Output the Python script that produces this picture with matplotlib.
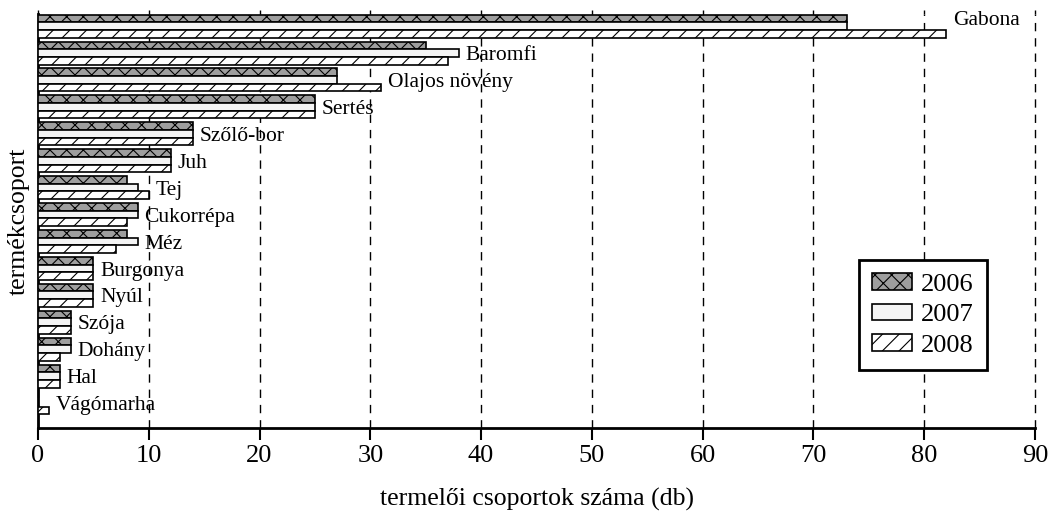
import numpy as np
import matplotlib
matplotlib.use("Agg")
import matplotlib.pyplot as plt

plt.rcParams['font.family'] = ['Liberation Serif', 'DejaVu Serif']
plt.rcParams['hatch.linewidth'] = 0.8

categories = ["Gabona", "Baromfi", "Olajos növény", "Sertés", "Szőlő-bor", "Juh", "Tej",
              "Cukorrépa", "Méz", "Burgonya", "Nyúl", "Szója", "Dohány", "Hal", "Vágómarha"]
v2006 = [73, 35, 27, 25, 14, 12, 8, 9, 8, 5, 5, 3, 3, 2, 0]
v2007 = [73, 38, 27, 25, 14, 12, 9, 9, 9, 5, 5, 3, 3, 2, 0]
v2008 = [82, 37, 31, 25, 14, 12, 10, 8, 7, 5, 5, 3, 2, 2, 1]
years = ["2006", "2007", "2008"]

fig = plt.figure(figsize=(10.49, 5.11), dpi=100)
ax = fig.add_axes([0.0362, 0.1624, 0.9505, 0.8102])

y = np.arange(len(categories))
h = 0.285
styles = [dict(color="#9e9e9e", hatch="xx"), dict(color="#f4f4f4", hatch=""), dict(color="white", hatch="//")]
for k, (vals, st) in enumerate(zip([v2006, v2007, v2008], styles)):
    ax.barh(y - h + k * h, vals, height=h, color=st["color"], hatch=st["hatch"],
            edgecolor="black", linewidth=1.2, label=years[k], zorder=3)

for i, name in enumerate(categories):
    m = max(v2006[i], v2007[i], v2008[i])
    dy = -0.22 if i == 0 else 0.1
    ax.text(m + 0.6, y[i] + dy, name, fontsize=15.5, va="center", ha="left", zorder=4)

ax.set_xlim(0, 90)
ax.set_ylim(14.93, -0.45)
ax.set_xticks(range(0, 91, 10))
ax.set_yticks([])
ax.xaxis.grid(True, linestyle=(0, (6, 5)), color="black", linewidth=1.0, zorder=0)
for gl in ax.get_xgridlines():
    gl.set_clip_on(False)
ax.tick_params(axis="x", labelsize=19, width=1.5, length=8.5, pad=3.5, direction="out", top=True)
for t in ax.xaxis.get_major_ticks():
    t.tick2line.set_markersize(3)
    t.tick2line.set_markeredgewidth(1.0)
ax.spines["top"].set_visible(False)
ax.spines["right"].set_visible(False)
ax.spines["left"].set_linewidth(2)
ax.spines["bottom"].set_linewidth(2)

ax.set_xlabel("termelői csoportok száma (db)", fontsize=18.5, labelpad=15)
ax.set_ylabel("termékcsoport", fontsize=18.5, labelpad=6)

leg = ax.legend(loc="lower right", bbox_to_anchor=(0.952, 0.14), fontsize=19, frameon=True,
                fancybox=False, edgecolor="black", handlelength=1.5, handleheight=0.6,
                handletextpad=0.35, borderpad=0.5, labelspacing=0.3, borderaxespad=0)
leg.get_frame().set_linewidth(2)
leg.get_frame().set_alpha(1)

fig.savefig("out.png", dpi=100)
